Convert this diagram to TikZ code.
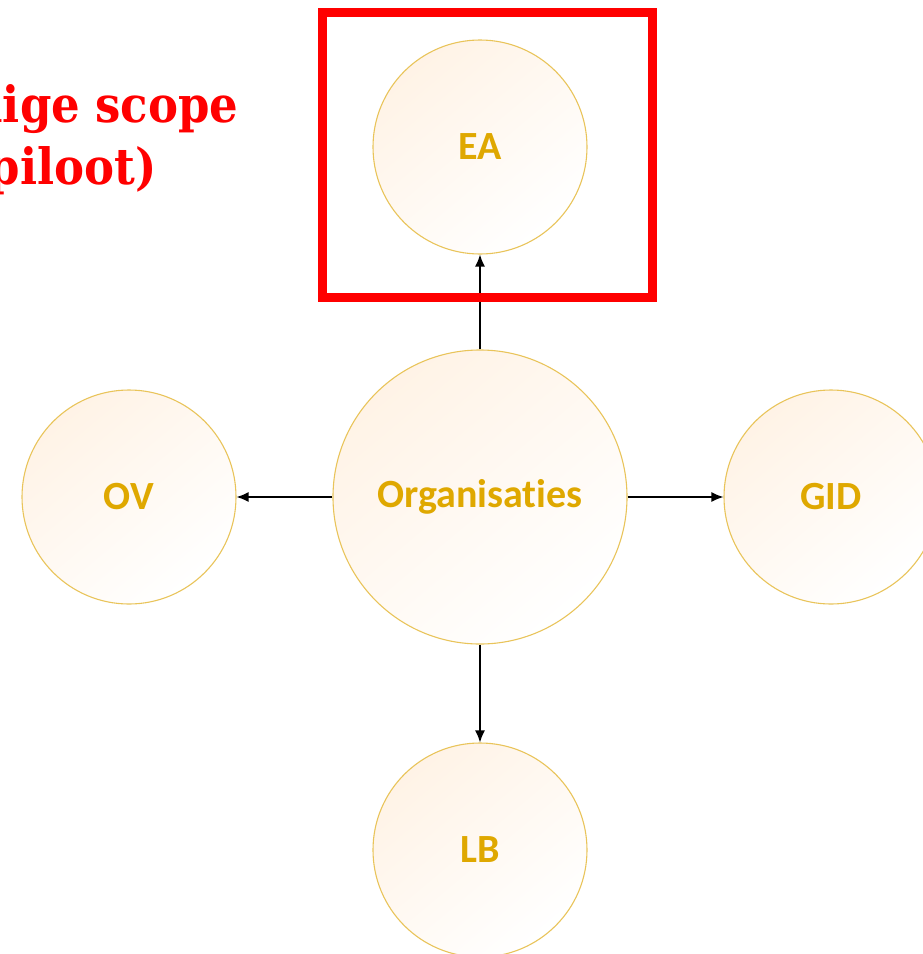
\documentclass[tikz,border=0pt]{standalone}
\usepackage{fontspec}
\setmainfont[Ligatures=NoCommon]{Carlito}
\newfontfamily\slabfont{DejaVu Serif Condensed}
\usetikzlibrary{arrows.meta}
\definecolor{gold}{HTML}{DFA800}
\definecolor{ring}{HTML}{E9C45A}
\definecolor{peach}{HTML}{FFF3E6}
\definecolor{redbox}{HTML}{FF0000}
\tikzset{
  bubble/.style={circle, draw=ring, line width=1.1pt, top color=peach, bottom color=white, shading angle=40,
    text=gold, font=\fontsize{40}{40}\selectfont\bfseries, inner sep=0pt},
  small/.style={bubble, minimum size=214pt},
  big/.style={bubble, minimum size=294pt},
  link/.style={-{Latex[length=12pt,width=10pt]}, line width=1.4pt, black},
  redtext/.style={text=redbox, font=\slabfont\fontsize{50}{64}\selectfont\bfseries, anchor=base east}
}
\begin{document}
\begin{tikzpicture}[x=1pt,y=-1pt]
\useasboundingbox (0,0) rectangle (923,954);
\begin{scope}
\clip (0,0) rectangle (923,954);
\node[big] (org) at (480,497) {Organisaties};
\node[small] (ea) at (480,147) {EA};
\node[small] (ov) at (129,497) {OV};
\node[small] (gid) at (831,497) {GID};
\node[small] (lb) at (480,850) {LB};
\draw[link] (org) -- (ea);
\draw[link] (org) -- (ov);
\draw[link] (org) -- (gid);
\draw[link] (org) -- (lb);
\node[draw=redbox, line width=9pt, minimum width=330pt, minimum height=285pt, inner sep=0pt] (box) at (487,154.5) {};
\node[redtext] (t1) at (242,122) {dige scope};
\node[redtext] (t2) at (160,184) {(piloot)};
\end{scope}
\end{tikzpicture}
\end{document}
